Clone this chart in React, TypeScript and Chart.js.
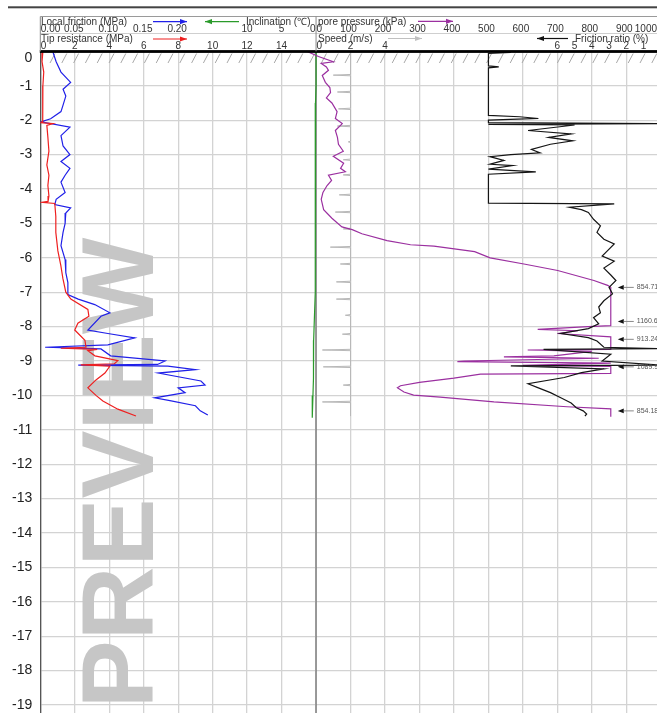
import React, { useEffect, useRef } from 'react';
import { Chart, registerables } from 'chart.js';

Chart.register(...registerables);

const FONT = '"Liberation Sans", Arial, Helvetica, sans-serif';

// ---------------- data (depth in m, negative downwards) ----------------
const tipDepth = [0, -0.3, -0.6, -1.0, -1.4, -1.8, -2.04, -2.07, -2.1, -2.15, -2.5, -2.9, -3.3, -3.6, -3.9, -4.2, -4.36, -4.39, -4.42, -4.8, -5.26, -5.8, -6.22, -6.6, -7.0, -7.2, -7.5, -7.7, -7.9, -8.1, -8.4, -8.6, -8.63, -8.66, -8.7, -8.85, -8.99, -9.08, -9.11, -9.15, -9.35, -9.55, -9.78, -10.0, -10.16, -10.4, -10.6];
const tipValue = [0.15, 0.1, 0.2, 0.15, 0.12, 0.15, 0.15, 0.0, 0.73, 0.38, 0.44, 0.5, 0.38, 0.5, 0.44, 0.5, 0.45, 0.09, 0.84, 0.9, 0.9, 1.02, 1.19, 1.31, 1.48, 1.77, 2.76, 2.82, 2.18, 2.0, 2.59, 2.65, 1.19, 3.3, 2.76, 3.17, 4.5, 4.3, 2.35, 4.04, 3.75, 3.23, 2.76, 3.23, 3.63, 4.5, 5.55];

const fricDepth = [0, -0.3, -0.6, -0.9, -1.1, -1.3, -1.56, -1.75, -1.96, -2.05, -2.2, -2.45, -2.75, -3.0, -3.2, -3.4, -3.6, -3.8, -4.1, -4.3, -4.45, -4.55, -4.7, -5.0, -5.26, -5.65, -6.05, -6.43, -6.72, -7.07, -7.2, -7.36, -7.6, -7.7, -8.1, -8.2, -8.33, -8.53, -8.6, -8.65, -8.85, -9.0, -9.1, -9.12, -9.15, -9.25, -9.35, -9.58, -9.7, -9.78, -9.92, -10.07, -10.15, -10.3, -10.45, -10.57];
const fricValue = [0.018, 0.023, 0.030, 0.044, 0.033, 0.037, 0.033, 0.030, 0.015, 0.001, 0.043, 0.030, 0.033, 0.043, 0.030, 0.043, 0.036, 0.030, 0.036, 0.023, 0.021, 0.044, 0.037, 0.036, 0.033, 0.030, 0.036, 0.037, 0.040, 0.040, 0.055, 0.079, 0.101, 0.088, 0.069, 0.098, 0.137, 0.098, 0.007, 0.088, 0.102, 0.181, 0.17, 0.055, 0.185, 0.225, 0.171, 0.233, 0.239, 0.2, 0.21, 0.166, 0.188, 0.225, 0.232, 0.243];

const inclDepth = [0, -1, -1.5, -2, -3, -4, -5, -6, -7, -7.8, -8.4, -9, -9.5, -10, -10.3, -10.65];
const inclValue = [0.0, 0.0, 0.08, 0.1, 0.1, 0.12, 0.1, 0.12, 0.15, 0.25, 0.35, 0.35, 0.4, 0.45, 0.52, 0.58];

const poreDepth = [0, -0.15, -0.3, -0.35, -0.45, -0.55, -0.7, -0.9, -1.05, -1.2, -1.35, -1.5, -1.75, -1.95, -2.1, -2.3, -2.5, -2.7, -2.9, -3.05, -3.25, -3.4, -3.5, -3.6, -3.75, -3.9, -4.1, -4.3, -4.6, -4.85, -5.1, -5.18, -5.3, -5.5, -5.62, -5.66, -5.82, -6.0, -6.18, -6.37, -6.66, -6.8, -6.86, -7.97, -8.0, -8.08, -8.12, -8.2, -8.3, -8.66, -8.68, -8.72, -8.85, -8.88, -8.92, -9.0, -9.02, -9.06, -9.13, -9.16, -9.36, -9.38, -9.5, -9.62, -9.72, -9.78, -9.9, -9.99, -10.05, -10.19, -10.33, -10.39, -10.62];
const poreValue = [-26, 7, 50, 15, 30, 36, 18, 27, 40, 42, 30, 46, 61, 56, 76, 56, 62, 65, 79, 50, 80, 71, 85, 36, 45, 32, 20, 15, 22, 46, 75, 105, 133, 206, 274, 342, 460, 505, 603, 701, 806, 846, 855, 855, 789, 643, 760, 700, 855, 855, 614, 800, 690, 545, 820, 430, 410, 855, 600, 855, 855, 477, 400, 300, 245, 236, 255, 283, 360, 516, 728, 855, 855];

const speedDepth = [0, -0.67, -0.69, -0.71, -1.16, -1.18, -1.2, -1.65, -1.67, -1.69, -2.15, -2.17, -2.19, -2.61, -2.63, -2.65, -3.13, -3.15, -3.17, -3.57, -3.59, -3.61, -4.15, -4.17, -4.19, -4.65, -4.67, -4.69, -5.14, -5.16, -5.18, -5.67, -5.69, -5.71, -6.16, -6.18, -6.2, -6.68, -6.7, -6.72, -7.18, -7.2, -7.22, -7.65, -7.67, -7.69, -8.2, -8.22, -8.24, -8.66, -8.68, -8.7, -9.15, -9.17, -9.19, -9.68, -9.7, -9.72, -10.17, -10.19, -10.21, -10.6];
const speedValue = [2.0, 2.0, 1.0, 2.0, 2.0, 1.24, 2.0, 2.0, 1.3, 2.0, 2.0, 1.24, 2.0, 2.0, 1.87, 2.0, 2.0, 1.58, 2.0, 2.0, 1.58, 2.0, 2.0, 1.35, 2.0, 2.0, 1.12, 2.0, 2.0, 1.58, 2.0, 2.0, 0.83, 2.0, 2.0, 1.41, 2.0, 2.0, 1.18, 2.0, 2.0, 1.18, 2.0, 2.0, 1.7, 2.0, 2.0, 1.53, 2.0, 2.0, 0.37, 2.0, 2.0, 0.42, 2.0, 2.0, 1.58, 2.0, 2.0, 0.37, 2.0, 2.0];

const ratioDepth = [0, -0.03, -0.06, -0.42, -0.45, -0.48, -1.86, -1.9, -1.95, -1.97, -2.0, -2.07, -2.1, -2.12, -2.14, -2.3, -2.4, -2.5, -2.6, -2.7, -2.85, -2.95, -3.0, -3.06, -3.17, -3.28, -3.32, -3.42, -3.5, -3.57, -4.41, -4.43, -4.53, -4.6, -4.68, -4.88, -5.07, -5.26, -5.46, -5.6, -5.8, -5.95, -6.1, -6.3, -6.5, -6.66, -6.86, -7.05, -7.25, -7.43, -7.6, -7.74, -7.92, -8.06, -8.2, -8.32, -8.42, -8.6, -8.64, -8.66, -8.8, -9.0, -9.12, -9.14, -9.23, -9.34, -9.48, -9.66, -9.78, -9.92, -10.07, -10.22, -10.36, -10.45, -10.54, -10.6];
const ratioValue = [10, 8.7, 10, 10, 9.4, 10, 10, 8.2, 7.1, 8.3, 10, 10, 0, 10, 5.0, 7.7, 5.2, 6.5, 5.1, 6.4, 7.5, 7.0, 8.7, 9.9, 9.1, 9.9, 8.6, 10, 7.25, 10, 10, 2.7, 5.3, 4.6, 4.2, 3.9, 3.5, 3.7, 3.3, 2.7, 3.1, 3.4, 2.7, 3.3, 2.9, 2.6, 3.0, 2.8, 3.3, 3.6, 3.5, 3.9, 3.6, 4.2, 5.8, 4.2, 3.7, 3.3, 0, 6.8, 2.9, 3.4, 0, 8.7, 3.3, 4.6, 5.6, 7.7, 7.1, 6.4, 5.8, 5.2, 4.9, 4.5, 4.3, 4.4];

// out-of-range pore pressure markers
const annotDepth = [-6.86, -7.85, -8.37, -9.17, -10.45];
const annotLabel = ['854.71', '1160.6', '913.24', '1089.9', '854.18'];
const poreDisplayLimit = 855;

// header tick labels
const tipTicks = [0, 2, 4, 6, 8, 10, 12, 14];
const frictionTicks = [0, 0.05, 0.1, 0.15, 0.2];
const inclinationTicks = [10, 5, 0];
const poreTicks = [0, 100, 200, 300, 400, 500, 600, 700, 800, 900, 1000];
const speedTicks = [0, 2, 4];
const ratioTicks = [6, 5, 4, 3, 2, 1];

const WATERMARK = 'PREVIEW';

// ---------------- layout (canvas fills the window) ----------------
const CW = 657;
const CH = 713;
const AXIS_W = 40.3;
const PLOT_TOP = 51.4;
const CELL = 34.47;
const CELL_Y = 34.4;
const NC = (CW - AXIS_W) / CELL;
const DEPTH_BOTTOM = -(CH - PLOT_TOP) / CELL_Y;

const pts = (d: number[], v: number[]) => d.map((y, i) => ({ x: v[i], y }));

function ds(label: string, d: number[], v: number[], xAxisID: string, color: string, width = 1.2) {
  return {
    label,
    data: pts(d, v),
    xAxisID,
    yAxisID: 'y',
    borderColor: color,
    backgroundColor: color,
    borderWidth: width,
    pointRadius: 0,
    pointHoverRadius: 0,
    showLine: true,
    fill: false,
    tension: 0,
  };
}

function arrow(ctx: CanvasRenderingContext2D, x1: number, x2: number, y: number, color: string, pointLeft: boolean) {
  ctx.strokeStyle = color;
  ctx.fillStyle = color;
  ctx.lineWidth = 1.2;
  ctx.beginPath();
  ctx.moveTo(x1, y);
  ctx.lineTo(x2, y);
  ctx.stroke();
  const tip = pointLeft ? x1 : x2;
  const dir = pointLeft ? 1 : -1;
  ctx.beginPath();
  ctx.moveTo(tip, y);
  ctx.lineTo(tip + dir * 7, y - 2.6);
  ctx.lineTo(tip + dir * 7, y + 2.6);
  ctx.closePath();
  ctx.fill();
}

function txt(ctx: CanvasRenderingContext2D, s: string, x: number, y: number, align: CanvasTextAlign) {
  ctx.textAlign = align;
  ctx.fillText(s, x, y);
}

const decor = {
  id: 'cptDecor',
  beforeDatasetsDraw(chart: any) {
    const { ctx, chartArea: a, scales } = chart;
    ctx.save();
    ctx.beginPath();
    ctx.rect(a.left, a.top, a.right - a.left, a.bottom - a.top);
    ctx.clip();

    // watermark
    ctx.save();
    ctx.translate(153, 473);
    ctx.rotate(-Math.PI / 2);
    ctx.font = `bold 102px ${FONT}`;
    ctx.fillStyle = '#c6c6c6';
    ctx.textAlign = 'center';
    ctx.textBaseline = 'alphabetic';
    ctx.fillText(WATERMARK, 0, 0);
    ctx.restore();

    // ground surface hatch
    ctx.strokeStyle = '#a8a8a8';
    ctx.lineWidth = 1;
    for (let x = 50; x < CW + 10; x += 11.8) {
      ctx.beginPath();
      ctx.moveTo(x, 63);
      ctx.lineTo(x + 5, 53.5);
      ctx.stroke();
    }

    // panel divider at pore pressure zero
    const x0 = scales.xPore.getPixelForValue(0);
    ctx.strokeStyle = '#7a7a7a';
    ctx.lineWidth = 1.4;
    ctx.beginPath();
    ctx.moveTo(x0, a.top);
    ctx.lineTo(x0, a.bottom);
    ctx.stroke();
    ctx.restore();
  },
  afterDatasetsDraw(chart: any) {
    const { ctx, chartArea: a, scales } = chart;
    ctx.save();
    // thick top line (depth 0)
    ctx.fillStyle = '#000';
    ctx.fillRect(a.left - 0.5, a.top - 1.3, CW - a.left + 1, 2.8);

    // out-of-range markers
    const ax = scales.xPore.getPixelForValue(poreDisplayLimit) + 7;
    ctx.font = `7px ${FONT}`;
    ctx.textBaseline = 'middle';
    annotDepth.forEach((d, i) => {
      const y = scales.y.getPixelForValue(d);
      ctx.fillStyle = '#111';
      ctx.beginPath();
      ctx.moveTo(ax, y);
      ctx.lineTo(ax + 6, y - 2.4);
      ctx.lineTo(ax + 6, y + 2.4);
      ctx.closePath();
      ctx.fill();
      ctx.strokeStyle = '#888';
      ctx.lineWidth = 1;
      ctx.beginPath();
      ctx.moveTo(ax + 6, y);
      ctx.lineTo(ax + 16, y);
      ctx.stroke();
      ctx.fillStyle = '#555';
      txt(ctx, annotLabel[i], ax + 19, y, 'left');
    });
    ctx.restore();
  },
  afterDraw(chart: any) {
    const { ctx, chartArea: a, scales } = chart;
    const X = (id: string, v: number) => scales[id].getPixelForValue(v);
    ctx.save();

    // top rule
    ctx.fillStyle = '#444';
    ctx.fillRect(8, 6.3, CW - 8, 2);

    // header frame
    ctx.lineWidth = 1;
    ctx.strokeStyle = '#9a9a9a';
    ctx.beginPath();
    ctx.moveTo(a.left, 16.5);
    ctx.lineTo(CW, 16.5);
    ctx.stroke();
    ctx.strokeStyle = '#cfcfcf';
    ctx.beginPath();
    ctx.moveTo(a.left, 33.5);
    ctx.lineTo(CW, 33.5);
    ctx.stroke();
    ctx.strokeStyle = '#8a8a8a';
    ctx.beginPath();
    ctx.moveTo(a.left, 16.5);
    ctx.lineTo(a.left, a.top);
    const xp0 = X('xPore', 0);
    ctx.moveTo(xp0, 16.5);
    ctx.lineTo(xp0, a.top);
    ctx.stroke();

    // titles
    ctx.font = `10px ${FONT}`;
    ctx.fillStyle = '#333';
    ctx.textBaseline = 'alphabetic';
    txt(ctx, 'Local friction (MPa)', 41, 25.3, 'left');
    txt(ctx, 'Inclination (\u2103)', 246, 25.3, 'left');
    txt(ctx, 'pore pressure (kPa)', 318, 25.3, 'left');
    txt(ctx, 'Tip resistance (MPa)', 41, 42, 'left');
    txt(ctx, 'Speed (m/s)', 318, 42, 'left');
    txt(ctx, 'Friction ratio (%)', 575, 42, 'left');

    arrow(ctx, 153, 187, 21.6, '#2020e8', false);
    arrow(ctx, 205, 239, 21.6, '#2a9a2a', true);
    arrow(ctx, 418, 453, 21.3, '#9b30a0', false);
    arrow(ctx, 153, 187, 39, '#ee2020', false);
    arrow(ctx, 388, 422, 38.5, '#c0c0c0', false);
    arrow(ctx, 537, 568, 38.5, '#111', true);

    // tick labels, row 2
    ctx.fillStyle = '#333';
    const r2 = 31.8;
    frictionTicks.forEach((v) => {
      const x = X('xFric', v);
      txt(ctx, v.toFixed(2), v === 0 ? x + 0.5 : x - 1, r2, v === 0 ? 'left' : 'center');
    });
    inclinationTicks.forEach((v) => {
      const x = X('xIncl', v);
      txt(ctx, String(v), v === 0 ? x - 0.5 : x, r2, v === 0 ? 'right' : 'center');
    });
    poreTicks.forEach((v) => {
      const x = X('xPore', v);
      if (v === 0) txt(ctx, String(v), x + 0.5, r2, 'left');
      else if (x + 12 > CW) txt(ctx, String(v), CW, r2, 'right');
      else txt(ctx, String(v), x - 2, r2, 'center');
    });

    // tick labels, row 4
    const r4 = 49.4;
    tipTicks.forEach((v) => {
      const x = X('xTip', v);
      txt(ctx, String(v), v === 0 ? x + 0.5 : x, r4, v === 0 ? 'left' : 'center');
    });
    speedTicks.forEach((v) => {
      const x = X('xSpeed', v);
      txt(ctx, String(v), v === 0 ? x + 0.5 : x, r4, v === 0 ? 'left' : 'center');
    });
    ratioTicks.forEach((v) => {
      txt(ctx, String(v), X('xRatio', v), r4, 'center');
    });

    // depth label for the surface
    ctx.font = `14px ${FONT}`;
    ctx.fillStyle = '#222';
    ctx.textBaseline = 'middle';
    txt(ctx, '0', a.left - 8, 58.5, 'right');

    ctx.restore();
  },
};

const hiddenX = (min: number, max: number, reverse = false) => ({
  type: 'linear' as const,
  display: false,
  position: 'top' as const,
  min,
  max,
  reverse,
});

export default function App() {
  const ref = useRef<HTMLCanvasElement>(null);

  useEffect(() => {
    const prevMargin = document.body.style.margin;
    const prevHtml = document.documentElement.style.overflow;
    document.body.style.margin = '0';
    document.documentElement.style.overflow = 'hidden';
    const canvas = ref.current;
    if (!canvas) return;
    const chart = new Chart(canvas, {
      type: 'scatter',
      data: {
        datasets: [
          ds('Tip resistance (MPa)', tipDepth, tipValue, 'xTip', '#ee2020'),
          ds('Local friction (MPa)', fricDepth, fricValue, 'xFric', '#2020e8'),
          ds('Friction ratio (%)', ratioDepth, ratioValue, 'xRatio', '#151515'),
          ds('pore pressure (kPa)', poreDepth, poreValue, 'xPore', '#9b30a0'),
          ds('Inclination', inclDepth, inclValue, 'xIncl', '#2a9a2a'),
          ds('Speed (m/s)', speedDepth, speedValue, 'xSpeed', '#b8b8b8', 1),
        ] as any,
      },
      options: {
        animation: false,
        responsive: false,
        maintainAspectRatio: false,
        devicePixelRatio: 1,
        events: [],
        layout: { padding: { top: PLOT_TOP, left: 0, right: 0, bottom: 0 } },
        plugins: { legend: { display: false }, tooltip: { enabled: false } },
        scales: {
          y: {
            type: 'linear',
            position: 'left',
            min: DEPTH_BOTTOM,
            max: 0,
            afterFit: (s: any) => {
              s.width = AXIS_W;
              s.paddingTop = 0;
              s.paddingBottom = 0;
            },
            ticks: {
              stepSize: 1,
              includeBounds: false,
              padding: 8,
              color: '#222',
              font: { family: FONT, size: 14 },
              callback: (v: any) => (Number(v) === 0 ? '' : String(v)),
            },
            grid: { color: '#d3d3d3', lineWidth: 1.3, drawTicks: false },
            border: { display: true, color: '#555', width: 1.3 },
          },
          xTip: {
            type: 'linear',
            position: 'top',
            min: 0,
            max: 2 * NC,
            afterFit: (s: any) => {
              s.height = 0;
              s.paddingLeft = 0;
              s.paddingRight = 0;
            },
            ticks: { display: false, stepSize: 2, includeBounds: false },
            grid: { color: '#d3d3d3', lineWidth: 1.3, drawTicks: false },
            border: { display: false },
          },
          xFric: hiddenX(0, 0.05 * NC),
          xIncl: hiddenX(40 - 5 * NC, 40, true),
          xPore: hiddenX(-800, -800 + 100 * NC),
          xSpeed: hiddenX(-16, -16 + 2 * NC),
          xRatio: hiddenX(36 - 2 * NC, 36, true),
        } as any,
      },
      plugins: [decor],
    });
    return () => {
      chart.destroy();
      document.body.style.margin = prevMargin;
      document.documentElement.style.overflow = prevHtml;
    };
  }, []);

  return (
    <div style={{ width: CW, height: CH }}>
      <canvas ref={ref} width={CW} height={CH} style={{ display: 'block', width: CW, height: CH }} />
    </div>
  );
}
